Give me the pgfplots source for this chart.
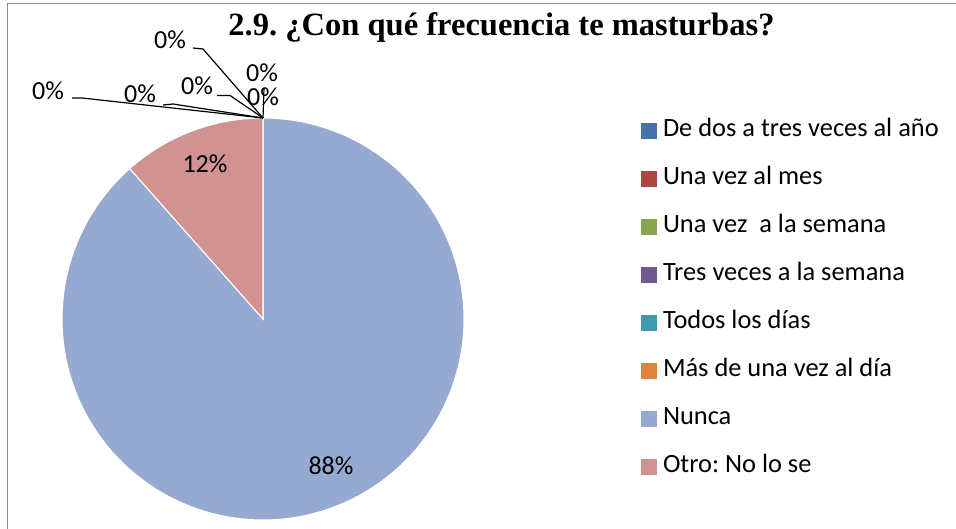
\documentclass[border=0pt]{standalone}
\usepackage{fontspec}
\setmainfont{Carlito}
\newfontfamily\timesf{Liberation Serif}
\usepackage{pgfplots}
\pgfplotsset{compat=1.18}
\frenchspacing
\definecolor{c1}{HTML}{4672AA}
\definecolor{c2}{HTML}{AA4643}
\definecolor{c3}{HTML}{89A54E}
\definecolor{c4}{HTML}{71588F}
\definecolor{c5}{HTML}{4198AF}
\definecolor{c6}{HTML}{DB843D}
\definecolor{c7}{HTML}{95A9D1}
\definecolor{c8}{HTML}{D19392}
\definecolor{framec}{HTML}{8A8A8A}
% values (counts): De dos a tres veces al ano, Una vez al mes, Una vez a la semana,
% Tres veces a la semana, Todos los dias, Mas de una vez al dia, Nunca, Otro
\def\vA{0}\def\vB{0}\def\vC{0}\def\vD{0}\def\vE{0}\def\vF{0}
\def\vNunca{23}\def\vOtro{3}
\pgfmathsetmacro\total{\vA+\vB+\vC+\vD+\vE+\vF+\vNunca+\vOtro}
\pgfmathsetmacro\aStart{90-360*(\vA+\vB+\vC+\vD+\vE+\vF)/\total}
\pgfmathsetmacro\aN{\aStart-360*\vNunca/\total}
\pgfmathsetmacro\aO{\aN-360*\vOtro/\total}
\begin{document}
\begin{tikzpicture}
\useasboundingbox (0,0) rectangle (717pt,396pt);
\begin{axis}[at={(0,0)}, anchor=south west, scale only axis,
  width=717pt, height=396pt, xmin=0, xmax=956, ymin=0, ymax=528,
  y dir=reverse, hide axis, clip=false,
  legend image code/.code={\fill[#1,draw=none] (0pt,-1.5pt) rectangle (12pt,10.5pt);},
  legend style={at={(axis cs:641,118.3)}, anchor=north west, draw=none, fill=none,
    inner sep=0pt, outer sep=0pt, row sep=18pt, /tikz/column sep=4.5pt,
    nodes={inner sep=0pt, text height=14pt, text depth=4pt, font=\fontsize{19.8}{23}\selectfont},
    cells={anchor=base west}},
]
\addplot[forget plot, fill=c7, draw=white, line width=0.8pt, domain=\aN:\aStart, samples=240, variable=\t]
  ({263+201*cos(\t)}, {319-201*sin(\t)}) -- (axis cs:263,319) -- cycle;
\addplot[forget plot, fill=c8, draw=white, line width=0.8pt, domain=\aO:\aN, samples=60, variable=\t]
  ({263+201*cos(\t)}, {319-201*sin(\t)}) -- (axis cs:263,319) -- cycle;

\addlegendimage{fill=c1}\addlegendentry{De dos a tres veces al año}
\addlegendimage{fill=c2}\addlegendentry{Una vez al mes}
\addlegendimage{fill=c3}\addlegendentry{Una vez\ \ a la semana}
\addlegendimage{fill=c4}\addlegendentry{Tres veces a la semana}
\addlegendimage{fill=c5}\addlegendentry{Todos los días}
\addlegendimage{fill=c6}\addlegendentry{Más de una vez al día}
\addlegendimage{fill=c7}\addlegendentry{Nunca}
\addlegendimage{fill=c8}\addlegendentry{Otro: No lo se}

% frame
\draw[framec, line width=1.3pt] (axis cs:7.5,560) -- (axis cs:7.5,3.5) -- (axis cs:990,3.5);
% title
\node[anchor=base, font=\timesf\bfseries\fontsize{24.4}{28}\selectfont] at (axis cs:501.5,36) {2.9. ¿Con qué frecuencia te masturbas?};
% slice labels
\begin{scope}[every node/.style={font=\fontsize{19.5}{23}\selectfont, inner sep=0pt}]
\node[anchor=base] at (axis cs:205,172) {12\%};
\node[anchor=base] at (axis cs:331,474) {88\%};
\node[anchor=base] at (axis cs:48,99) {0\%};
\node[anchor=base] at (axis cs:140,103) {0\%};
\node[anchor=base] at (axis cs:197,94) {0\%};
\node[anchor=base] at (axis cs:170,49) {0\%};
\node[anchor=base] at (axis cs:262,82) {0\%};
\node[anchor=base] at (axis cs:263,105) {0\%};
\end{scope}
% leader lines
\begin{scope}[line width=0.9pt]
\draw (axis cs:72,98) -- (axis cs:82,98) -- (axis cs:263,118);
\draw (axis cs:163,105) -- (axis cs:173,104) -- (axis cs:263,118);
\draw (axis cs:217,95.5) -- (axis cs:230,95.5) -- (axis cs:263,118);
\draw (axis cs:193,48) -- (axis cs:203,49) -- (axis cs:263,118);
\draw (axis cs:264,88) -- (axis cs:263,118);
\end{scope}
\end{axis}
\end{tikzpicture}
\end{document}
